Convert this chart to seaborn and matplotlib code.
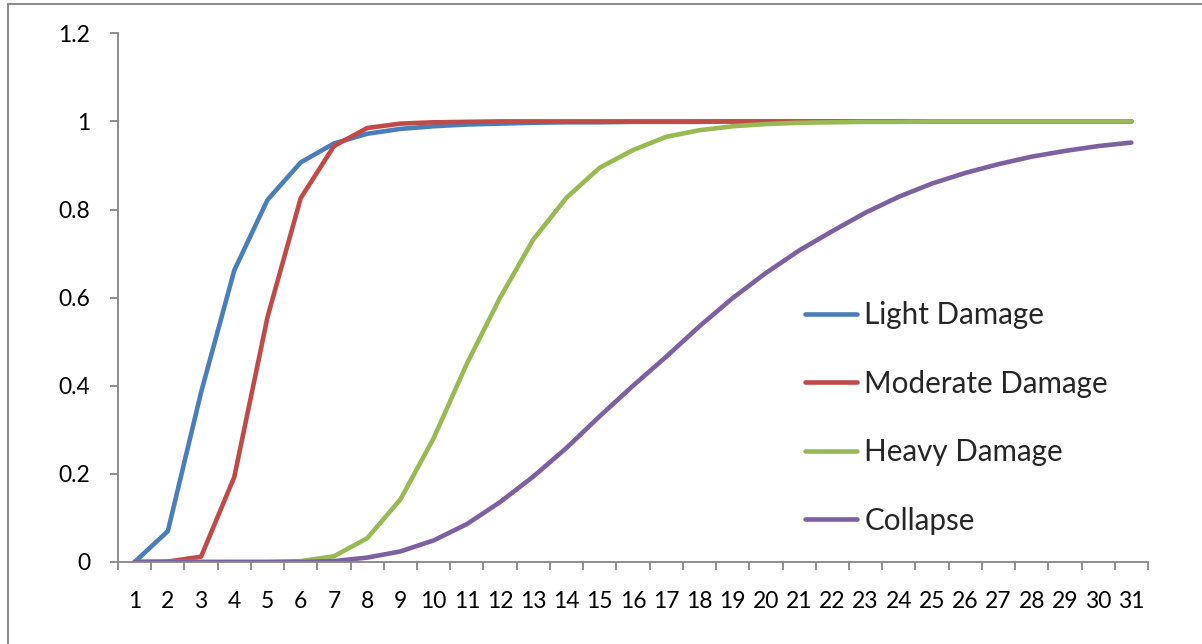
import matplotlib
matplotlib.use("Agg")
import matplotlib.pyplot as plt
from matplotlib.lines import Line2D
from matplotlib.ticker import FixedLocator, NullFormatter, FixedFormatter
import numpy as np
import pandas as pd
import seaborn as sns

# Damage-state probabilities for each intensity level
levels = list(range(1, 32))
light_damage = [0.0, 0.070, 0.385, 0.662, 0.822, 0.907, 0.950, 0.972, 0.983, 0.989,
                0.993, 0.995, 0.997, 0.998, 0.998, 0.999, 0.999, 0.999, 1.0, 1.0,
                1.0, 1.0, 1.0, 1.0, 1.0, 1.0, 1.0, 1.0, 1.0, 1.0, 1.0]
moderate_damage = [0.0, 0.001, 0.012, 0.193, 0.556, 0.826, 0.944, 0.985, 0.995, 0.998,
                   0.999, 1.0, 1.0, 1.0, 1.0, 1.0, 1.0, 1.0, 1.0, 1.0,
                   1.0, 1.0, 1.0, 1.0, 1.0, 1.0, 1.0, 1.0, 1.0, 1.0, 1.0]
heavy_damage = [0.0, 0.0, 0.0, 0.0, 0.0, 0.002, 0.013, 0.054, 0.142, 0.281,
                0.450, 0.600, 0.732, 0.827, 0.895, 0.935, 0.965, 0.980, 0.989, 0.994,
                0.997, 0.998, 0.999, 0.999, 1.0, 1.0, 1.0, 1.0, 1.0, 1.0, 1.0]
collapse = [0.0, 0.0, 0.0, 0.0, 0.0, 0.0, 0.002, 0.010, 0.024, 0.049,
            0.086, 0.136, 0.194, 0.259, 0.331, 0.400, 0.466, 0.535, 0.599, 0.656,
            0.707, 0.751, 0.793, 0.829, 0.859, 0.883, 0.903, 0.920, 0.933, 0.944, 0.952]

series_names = ["Light Damage", "Moderate Damage", "Heavy Damage", "Collapse"]
series_values = [light_damage, moderate_damage, heavy_damage, collapse]
series_colors = ["#4A7EBB", "#BE4B48", "#98B954", "#7D60A0"]
y_ticks = [0, 0.2, 0.4, 0.6, 0.8, 1, 1.2]
y_tick_labels = ["0", "0.2", "0.4", "0.6", "0.8", "1", "1.2"]

df = pd.DataFrame({
    "level": np.tile(levels, len(series_names)),
    "probability": np.concatenate(series_values),
    "state": np.repeat(series_names, len(levels)),
})

sns.set_style("white")
plt.rcParams["font.family"] = ["Lato", "DejaVu Sans"]

W, H = 1202, 644
fig = plt.figure(figsize=(W / 100, H / 100), dpi=100)
ax = fig.add_axes([118 / W, (H - 562) / H, (1148 - 118) / W, (562 - 33.3) / H])

palette = dict(zip(series_names, series_colors))
sns.lineplot(data=df, x="level", y="probability", hue="state", hue_order=series_names,
             palette=palette, linewidth=3.3, ax=ax, legend=False,
             solid_capstyle="round")

ax.set_xlim(0.5, 31.5)
ax.set_ylim(0, 1.2)
ax.set_xlabel("")
ax.set_ylabel("")

axis_color = "#868686"
for side in ["top", "right"]:
    ax.spines[side].set_visible(False)
for side in ["left", "bottom"]:
    ax.spines[side].set_color(axis_color)
    ax.spines[side].set_linewidth(1.3)

# x: tick marks between categories, labels centred on categories
ax.xaxis.set_major_locator(FixedLocator(np.arange(0.5, 32, 1)))
ax.xaxis.set_major_formatter(NullFormatter())
ax.xaxis.set_minor_locator(FixedLocator(levels))
ax.xaxis.set_minor_formatter(FixedFormatter([str(v) for v in levels]))
ax.tick_params(axis="x", which="major", direction="out", length=6, width=1.3,
               color=axis_color, bottom=True)
ax.tick_params(axis="x", which="minor", length=0, pad=21, labelsize=16.5,
               labelcolor="black", bottom=True)

ax.set_yticks(y_ticks)
ax.set_yticklabels(y_tick_labels)
ax.tick_params(axis="y", direction="out", length=6, width=1.3, color=axis_color,
               pad=14, labelsize=16.5, labelcolor="black", left=True)

handles = [Line2D([0], [0], color=c, lw=3.3, solid_capstyle="round") for c in series_colors]
leg = ax.legend(handles, series_names, loc="upper left",
                bbox_to_anchor=(805 / W, 1 - 301 / H), bbox_transform=fig.transFigure,
                frameon=False, fontsize=21.3, handlelength=1.75, handletextpad=0.25,
                labelspacing=1.37, borderaxespad=0, borderpad=0)

# outer chart frame (top and left edges)
fig.add_artist(Line2D([8 / W, 1], [1 - 4 / H, 1 - 4 / H], transform=fig.transFigure,
                      color="#8C8C8C", lw=1.5))
fig.add_artist(Line2D([8 / W, 8 / W], [0, 1 - 4 / H], transform=fig.transFigure,
                      color="#8C8C8C", lw=1.5))

fig.savefig("out.png", dpi=100)
